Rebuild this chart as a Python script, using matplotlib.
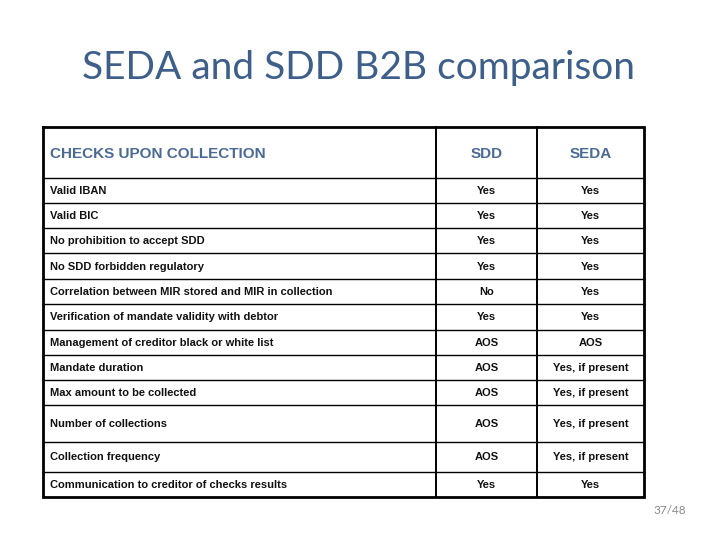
import matplotlib
matplotlib.use("Agg")
import matplotlib.pyplot as plt
from matplotlib import font_manager

title = "SEDA and SDD B2B comparison"
header = ["CHECKS UPON COLLECTION", "SDD", "SEDA"]
checks = [
    "Valid IBAN",
    "Valid BIC",
    "No prohibition to accept SDD",
    "No SDD forbidden regulatory",
    "Correlation between MIR stored and MIR in collection",
    "Verification of mandate validity with debtor",
    "Management of creditor black or white list",
    "Mandate duration",
    "Max amount to be collected",
    "Number of collections",
    "Collection frequency",
    "Communication to creditor of checks results",
]
sdd = ["Yes", "Yes", "Yes", "Yes", "No", "Yes", "AOS", "AOS", "AOS", "AOS", "AOS", "Yes"]
seda = ["Yes", "Yes", "Yes", "Yes", "Yes", "Yes", "AOS",
        "Yes, if present", "Yes, if present", "Yes, if present", "Yes, if present", "Yes"]
page = "37/48"

names = {f.name for f in font_manager.fontManager.ttflist}
body_font = "Liberation Sans Narrow" if "Liberation Sans Narrow" in names else "Liberation Sans"

fig = plt.figure(figsize=(7.2, 5.4), dpi=100)
ax = fig.add_axes([0, 0, 1, 1])
ax.set_xlim(0, 720)
ax.set_ylim(540, 0)
ax.axis("off")

# layout
left, right = 43, 644
c1, c2 = 436, 537
top = 127
row_edges = [178, 203, 228, 253, 279, 304, 330, 355, 380, 405, 442, 472, 497]

blue = "#4a6a96"

ax.text(359, 68, title, ha="center", va="center", fontsize=28,
        color="#3d5f8a", family="Lato")

# borders
ax.plot([left, right, right, left, left], [top, top, row_edges[-1], row_edges[-1], top],
        color="black", lw=2.0, solid_joinstyle="miter")
for x in (c1, c2):
    ax.plot([x, x], [top, row_edges[-1]], color="black", lw=1.4)
for y in row_edges[:-1]:
    ax.plot([left, right], [y, y], color="black", lw=1.0)

# header
hy = (top + row_edges[0]) / 2 + 1.5
ax.text(50, hy, header[0], ha="left", va="center", fontsize=11, color=blue,
        family=body_font, fontweight="bold")
ax.text((c1 + c2) / 2, hy, header[1], ha="center", va="center", fontsize=11,
        color=blue, family=body_font, fontweight="bold")
ax.text((c2 + right) / 2, hy, header[2], ha="center", va="center", fontsize=11,
        color=blue, family=body_font, fontweight="bold")

for i, (c, a, b) in enumerate(zip(checks, sdd, seda)):
    y = (row_edges[i] + row_edges[i + 1]) / 2 + 0.5
    ax.text(50, y, c, ha="left", va="center", fontsize=8, color="#111111",
            family=body_font, fontweight="bold")
    ax.text((c1 + c2) / 2, y, a, ha="center", va="center", fontsize=8,
            color="#111111", family=body_font, fontweight="bold")
    ax.text((c2 + right) / 2, y, b, ha="center", va="center", fontsize=8,
            color="#111111", family=body_font, fontweight="bold")

ax.text(670, 511, page, ha="center", va="center", fontsize=8.5, color="#8a8a8a",
        family="Lato")

fig.savefig("out.png", dpi=100)
